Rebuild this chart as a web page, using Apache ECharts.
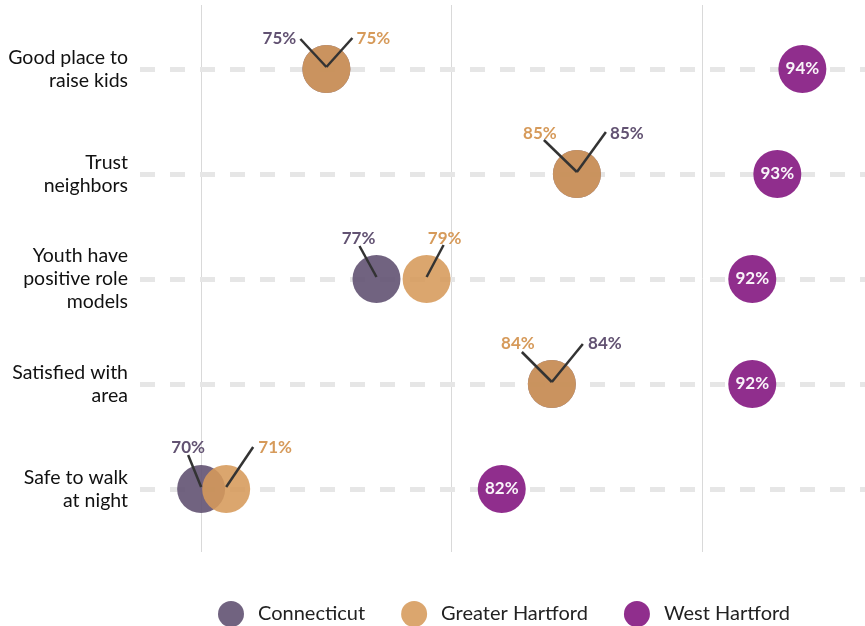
<!DOCTYPE html>
<html lang="en">
<head>
  <meta charset="UTF-8">
  <title>Neighborhood perceptions</title>
  <script src="https://cdn.jsdelivr.net/npm/echarts@6/dist/echarts.min.js"></script>
  <style>
    body { margin: 0; background: #fff; }
    #main { width: 865px; height: 626px; }
  </style>
</head>
<body>
<div id="main"></div>
<script>
  var categories = ['Good place to\nraise kids', 'Trust\nneighbors', 'Youth have\npositive role\nmodels', 'Satisfied with\narea', 'Safe to walk\nat night'];
  var connecticut = [75, 85, 77, 84, 70];
  var greaterHartford = [75, 85, 79, 84, 71];
  var westHartford = [94, 93, 92, 92, 82];
  var gridValues = [70, 80, 90];

  // leader line end and label centre, in px from the dot centre: [lineDx, lineDy, textDx, textDy]
  var ctNudge = [[-26, -28, -47, -31], [29, -40, 50, -41], [-17, -31, -18, -41], [31, -38, 53, -41], [-13, -32, -13, -42]];
  var ghNudge = [[26, -29, 47, -31], [-33, -32, -37, -41], [17, -32, 18, -41], [-30, -30, -34, -41], [27, -40, 49, -42]];

  var ctColor = '#625272';
  var ghColor = '#d69a5a';
  var whColor = '#8a2387';
  var font = 'Lato';

  var myChart = echarts.init(document.getElementById('main'));

  function pairs(values) {
    return values.map(function (v, i) { return [v, i]; });
  }

  function leaderSeries(name, values, nudge, color) {
    return {
      name: name,
      type: 'custom',
      xAxisIndex: 1,
      yAxisIndex: 1,
      z: 6,
      silent: true,
      data: values.map(function (v, i) { return [v, i].concat(nudge[i]); }),
      renderItem: function (params, api) {
        var p = api.coord([api.value(0), api.value(1)]);
        var x = p[0], y = p[1] - 2;
        return {
          type: 'group',
          children: [{
            type: 'line',
            shape: { x1: x, y1: y, x2: x + api.value(2), y2: y + api.value(3) },
            style: { stroke: '#333333', lineWidth: 2.5 }
          }, {
            type: 'text',
            x: p[0] + api.value(4),
            y: p[1] + api.value(5) + 1,
            style: {
              text: api.value(0) + '%',
              fill: color,
              font: 'bold 17px ' + font,
              align: 'center',
              verticalAlign: 'middle'
            }
          }]
        };
      }
    };
  }

  var xMin = 67.56, xMax = 96.5;

  myChart.setOption({
    backgroundColor: '#fff',
    animation: false,
    grid: [
      { left: 140, right: 0, top: 5, bottom: 74 },
      { left: 140, right: 0, top: 16.5, bottom: 84.5 }
    ],
    xAxis: [
      { type: 'value', gridIndex: 0, min: xMin, max: xMax, show: false },
      { type: 'value', gridIndex: 1, min: xMin, max: xMax, show: false }
    ],
    yAxis: [
      { type: 'value', gridIndex: 0, min: 0, max: 1, show: false },
      {
        type: 'category',
        gridIndex: 1,
        data: categories,
        inverse: true,
        axisLine: { show: false },
        axisTick: { show: false },
        splitLine: { show: false },
        axisLabel: {
          margin: 12,
          color: '#111',
          fontFamily: font,
          fontSize: 19.5,
          lineHeight: 23,
          align: 'right'
        }
      }
    ],
    legend: {
      data: ['Connecticut', 'Greater Hartford', 'West Hartford'],
      left: 218,
      top: 601,
      padding: 0,
      icon: 'circle',
      itemWidth: 44,
      itemHeight: 26,
      itemGap: 36,
      selectedMode: false,
      textStyle: { fontFamily: font, fontSize: 20, color: '#222' }
    },
    series: [
      {
        name: 'grid',
        type: 'scatter',
        xAxisIndex: 0,
        yAxisIndex: 0,
        z: 0,
        data: [],
        markLine: {
          z: 0,
          silent: true,
          symbol: 'none',
          label: { show: false },
          lineStyle: { color: '#d9d9d9', width: 1, type: 'solid' },
          data: gridValues.map(function (v) { return { xAxis: v }; })
        }
      },
      {
        name: 'rows',
        type: 'scatter',
        xAxisIndex: 1,
        yAxisIndex: 1,
        z: 1,
        data: [],
        markLine: {
          z: 1,
          silent: true,
          symbol: 'none',
          label: { show: false },
          lineStyle: { color: '#e6e6e6', width: 5, type: [15, 15] },
          data: categories.map(function (c) { return { yAxis: c }; })
        }
      },
      {
        name: 'Connecticut',
        type: 'scatter',
        xAxisIndex: 1,
        yAxisIndex: 1,
        z: 2,
        symbolSize: 48,
        itemStyle: { color: ctColor, opacity: 0.9 },
        emphasis: { disabled: true },
        data: pairs(connecticut)
      },
      {
        name: 'Greater Hartford',
        type: 'scatter',
        xAxisIndex: 1,
        yAxisIndex: 1,
        z: 3,
        symbolSize: 48,
        itemStyle: { color: ghColor, opacity: 0.88 },
        emphasis: { disabled: true },
        data: pairs(greaterHartford)
      },
      {
        name: 'West Hartford',
        type: 'scatter',
        xAxisIndex: 1,
        yAxisIndex: 1,
        z: 4,
        symbolSize: 48,
        itemStyle: { color: whColor, opacity: 0.95 },
        emphasis: { disabled: true },
        label: {
          show: true,
          position: 'inside',
          color: '#fff',
          fontFamily: font,
          fontWeight: 'bold',
          fontSize: 17,
          formatter: function (p) { return p.value[0] + '%'; }
        },
        data: pairs(westHartford)
      },
      leaderSeries('ctLabels', connecticut, ctNudge, ctColor),
      leaderSeries('ghLabels', greaterHartford, ghNudge, ghColor)
    ]
  });
</script>
</body>
</html>
